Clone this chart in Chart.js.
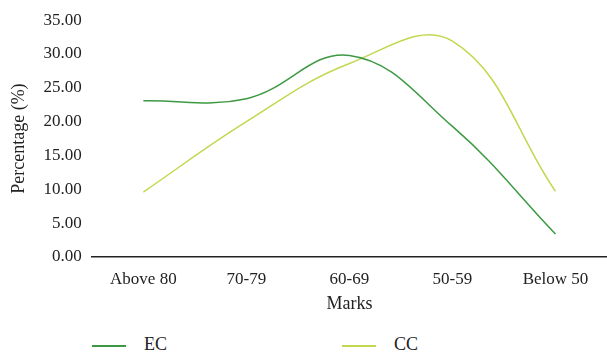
<!DOCTYPE html>
<html>
<head>
<meta charset="utf-8">
<script src="https://cdn.jsdelivr.net/npm/chart.js@4"></script>
<style>
	body { margin: 0; background: #fff; }
	#wrap { position: relative; width: 607px; height: 354px; }
	#legend { position: absolute; left: 0; top: 334px; width: 607px; height: 20px; font-family: "Liberation Serif", serif; font-size: 18px; color: #222; }
	.item { position: absolute; top: 0; }
	.swatch { display: inline-block; width: 34px; height: 2px; vertical-align: middle; margin-right: 18px; }
</style>
</head>
<body>
<div id="wrap">
	<canvas id="marksChart" width="607" height="315"></canvas>
	<div id="legend"></div>
</div>
<script>
const categories = ["Above 80", "70-79", "60-69", "50-59", "Below 50"];
const ecValues = [23.1, 23.4, 29.8, 19.3, 3.4];
const ccValues = [9.6, 20.0, 28.6, 31.9, 9.7];
const yTicks = [0, 5, 10, 15, 20, 25, 30, 35];

const ecColor = "#3d9a42";
const ccColor = "#c3d74e";
const fontFamily = "'Liberation Serif', serif";

const chartConfig = {
	type: "line",
	data: {
		labels: categories,
		datasets: [
			{
				label: "EC",
				data: ecValues,
				borderColor: ecColor,
				borderWidth: 1.5,
				pointRadius: 0,
				tension: 0.4,
				fill: false,
			},
			{
				label: "CC",
				data: ccValues,
				borderColor: ccColor,
				borderWidth: 1.5,
				pointRadius: 0,
				tension: 0.4,
				fill: false,
			},
		],
	},
	options: {
		responsive: false,
		animation: false,
		layout: { padding: { top: 12, right: 0, left: 4, bottom: 0 } },
		plugins: {
			legend: { display: false },
			tooltip: { enabled: false },
		},
		scales: {
			x: {
				offset: true,
				grid: { display: false, drawTicks: false },
				border: { display: true, color: "#222", width: 1.5 },
				ticks: { color: "#222", padding: 12, font: { family: fontFamily, size: 17 } },
				title: { display: true, text: "Marks", color: "#222", padding: { top: -8, bottom: 0 }, font: { family: fontFamily, size: 18 } },
			},
			y: {
				min: yTicks[0],
				max: yTicks[yTicks.length - 1],
				afterBuildTicks: function (axis) {
					axis.ticks = yTicks.map(v => ({ value: v }));
				},
				grid: { display: false, drawTicks: false },
				border: { display: false },
				ticks: {
					color: "#222",
					padding: 10,
					font: { family: fontFamily, size: 17 },
					callback: function (value) { return Number(value).toFixed(2); },
				},
				title: { display: true, text: "Percentage (%)", color: "#222", padding: { bottom: 4 }, font: { family: fontFamily, size: 18 } },
			},
		},
	},
};

const marksChart = new Chart(document.getElementById("marksChart"), chartConfig);

// legend drawn as plain text below the canvas
const legendEl = document.getElementById("legend");
[["EC", ecColor, 92], ["CC", ccColor, 342]].forEach(([name, color, left]) => {
	const item = document.createElement("div");
	item.className = "item";
	item.style.left = left + "px";
	item.innerHTML = '<span class="swatch" style="background:' + color + '"></span>' + name;
	legendEl.appendChild(item);
});
</script>
</body>
</html>
